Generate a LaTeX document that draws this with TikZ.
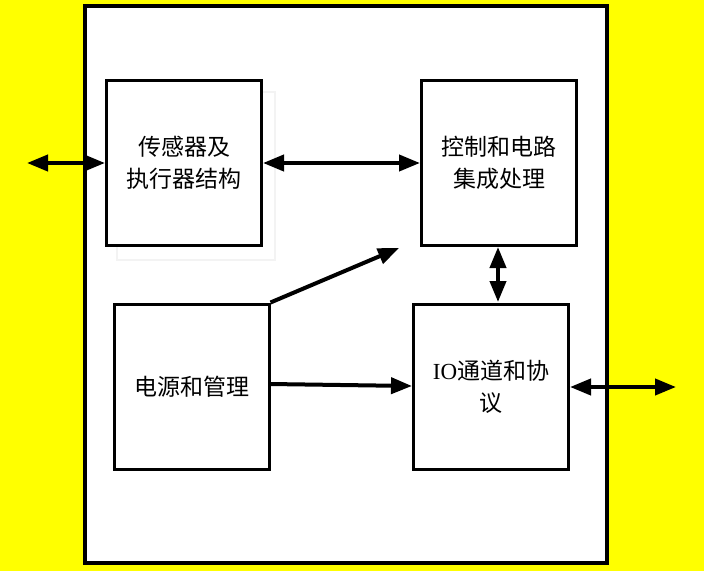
\documentclass[tikz,border=0pt]{standalone}
\usepackage{fontspec}
\setmainfont{Liberation Serif}
\newfontfamily\cjk{Noto Sans CJK SC}
\usetikzlibrary{arrows.meta}
\definecolor{bgyellow}{RGB}{255,255,0}
\definecolor{ghost}{RGB}{243,243,243}
\tikzset{
  blk/.style={draw=black, line width=3pt, fill=white, minimum width=155pt, minimum height=165pt, inner sep=0pt, align=center, font=\fontsize{23}{32}\selectfont\cjk},
  ghostblk/.style={draw=ghost, line width=1.5pt, minimum width=158pt, minimum height=168pt, inner sep=0pt},
  conn/.style={line width=4pt, -{Triangle[length=21pt,width=16pt]}},
  dconn/.style={line width=4pt, {Triangle[length=21pt,width=16pt]}-{Triangle[length=21pt,width=16pt]}},
}
\begin{document}
\begin{tikzpicture}[x=1pt,y=-1pt]
\useasboundingbox (0,0) rectangle (704,571);
\fill[bgyellow] (0,0) rectangle (704,571);
\draw[line width=4pt, fill=white] (85,6) rectangle (607,563);
% faint ghost frame behind the first block
\node[ghostblk] (g1) at (196,176) {};
\node[blk] (s) at (184,163) {传感器及\\执行器结构};
\node[blk] (c) at (499,163) {控制和电路\\集成处理};
\node[blk] (p) at (191.5,386.5) {电源和管理};
\node[blk] (io) at (491,386.5) {{\rmfamily IO}通道和协\\议};
\coordinate (lft) at (27,163);
\coordinate (rgt) at (676,387);
\coordinate (dtip) at (399,248);
\coordinate (vtop) at (498,247);
\coordinate (vbot) at (498,302);
\coordinate (hstart) at (270,384);
\coordinate (hend) at (412,386);
\coordinate (rstart) at (570,387);
\draw[dconn] (lft) -- (s.west);
\draw[dconn] (s.east) -- (c.west);
\draw[dconn] (vtop) -- (vbot);
\draw[conn] (p.north east) -- (dtip);
\draw[conn] (hstart) -- (hend);
\draw[dconn] (rstart) -- (rgt);
\end{tikzpicture}
\end{document}
